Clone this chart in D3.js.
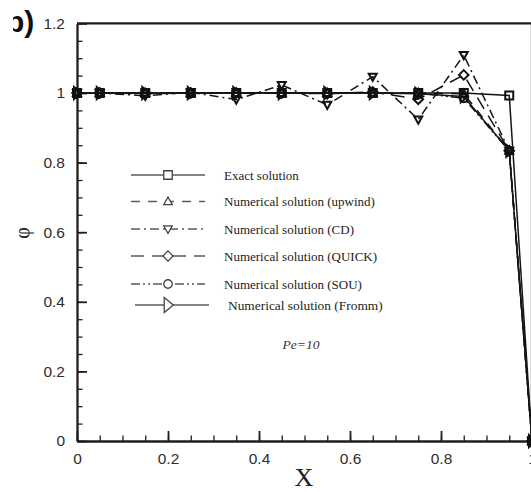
<!DOCTYPE html>
<html>
<head>
<meta charset="utf-8">
<script src="https://cdn.jsdelivr.net/npm/d3@7/dist/d3.min.js"></script>
<style>
  html, body { margin: 0; padding: 0; background: #fff; }
  svg { display: block; }
</style>
</head>
<body>
<div id="chart"></div>
<script>
// Grid nodes along X (cell centres plus the two boundaries)
const xNodes = [0, 0.05, 0.15, 0.25, 0.35, 0.45, 0.55, 0.65, 0.75, 0.85, 0.95, 1.0];

// phi at each node for every scheme
const exactPhi  = [1, 1, 1,     1,     1,     1,     1,     1,     1,     1,     0.993, 0];
const upwindPhi = [1, 1, 1,     1,     1,     1,     1,     1,     1,     0.998, 0.834, 0];
const cdPhi     = [1, 1, 0.992, 1.002, 0.981, 1.023, 0.966, 1.047, 0.924, 1.109, 0.834, 0];
const quickPhi  = [1, 1, 0.998, 1,     1,     1,     0.998, 1.003, 0.982, 1.052, 0.834, 0];
const souPhi    = [1, 1, 1,     1,     1,     1,     1,     1,     1,     0.985, 0.834, 0];
const frommPhi  = [1, 1, 1,     1,     1,     1,     1,     1,     0.998, 0.990, 0.834, 0];

const seriesNames = [
  "Exact solution",
  "Numerical solution (upwind)",
  "Numerical solution (CD)",
  "Numerical solution (QUICK)",
  "Numerical solution (SOU)",
  "Numerical solution (Fromm)"
];

const xTickLabels = ["0", "0.2", "0.4", "0.6", "0.8", "1"];
const yTickLabels = ["0", "0.2", "0.4", "0.6", "0.8", "1", "1.2"];

const W = 531, H = 492;
const svg = d3.select("#chart").append("svg")
  .attr("width", W).attr("height", H)
  .attr("viewBox", `0 0 ${W} ${H}`);

const x = d3.scaleLinear().domain([0, 1]).range([77, 532]);
const y = d3.scaleLinear().domain([0, 1.2]).range([441, 23.4]);

const axisColor = "#1e1e1e";
const sans = "'Liberation Sans', Arial, Helvetica, sans-serif";
const serif = "'Liberation Serif', 'Times New Roman', Times, serif";

// ---- Axes -------------------------------------------------------------
const xMinor = d3.range(0, 21).map(i => i * 0.05);
const yMinor = d3.range(0, 25).map(i => i * 0.05);
const xMajor = xTickLabels.map(Number);
const yMajor = yTickLabels.map(Number);

// minor ticks (inward, no labels)
svg.append("g").attr("transform", `translate(0,${y(0)})`)
  .call(d3.axisBottom(x).tickValues(xMinor).tickSize(-5.5).tickSizeOuter(0).tickFormat(""))
  .call(g => g.select(".domain").remove())
  .call(g => g.selectAll("line").attr("stroke", axisColor).attr("stroke-width", 1.3));
svg.append("g").attr("transform", `translate(${x(0)},0)`)
  .call(d3.axisLeft(y).tickValues(yMinor).tickSize(-5.5).tickSizeOuter(0).tickFormat(""))
  .call(g => g.select(".domain").remove())
  .call(g => g.selectAll("line").attr("stroke", axisColor).attr("stroke-width", 1.3));

// major ticks with labels
const xAxis = svg.append("g").attr("transform", `translate(0,${y(0)})`)
  .call(d3.axisBottom(x).tickValues(xMajor).tickSize(-10).tickSizeOuter(0).tickPadding(12)
    .tickFormat((d, i) => xTickLabels[i]));
const yAxis = svg.append("g").attr("transform", `translate(${x(0)},0)`)
  .call(d3.axisLeft(y).tickValues(yMajor).tickSize(-10).tickSizeOuter(0).tickPadding(12)
    .tickFormat((d, i) => yTickLabels[i]));
[xAxis, yAxis].forEach(g => {
  g.select(".domain").attr("stroke", axisColor).attr("stroke-width", 2.3);
  g.selectAll("line").attr("stroke", axisColor).attr("stroke-width", 1.8);
  g.selectAll("text").attr("fill", "#2e2e2e").style("font-family", sans).style("font-size", "15.5px");
});

// top and right frame edges
svg.append("line")
  .attr("x1", x(0)).attr("x2", x(1)).attr("y1", y(1.2)).attr("y2", y(1.2))
  .attr("stroke", axisColor).attr("stroke-width", 2.3);
svg.append("line")
  .attr("x1", x(1)).attr("x2", x(1)).attr("y1", y(1.2)).attr("y2", y(0))
  .attr("stroke", axisColor).attr("stroke-width", 2.3);

// ---- Marker shapes ----------------------------------------------------
function markerPath(kind, s) {
  // s = nominal marker width in px
  const h = s / 2;
  switch (kind) {
    case "square": return `M${-h},${-h}H${h}V${h}H${-h}Z`;
    case "up": return `M0,${-h * 1.05}L${h},${h * 0.75}L${-h},${h * 0.75}Z`;
    case "down": return `M0,${h * 1.05}L${h},${-h * 0.75}L${-h},${-h * 0.75}Z`;
    case "diamond": return `M0,${-h * 1.2}L${h * 1.2},0L0,${h * 1.2}L${-h * 1.2},0Z`;
    case "circle": return d3.arc()({ innerRadius: 0, outerRadius: h, startAngle: 0, endAngle: 2 * Math.PI });
    case "right": return `M${-h * 0.75},${-h * 1.5}L${h * 1.05},0L${-h * 0.75},${h * 1.5}Z`;
  }
}

const series = [
  { values: exactPhi,  dash: null,          marker: "square"  },
  { values: upwindPhi, dash: "9,8",         marker: "up"      },
  { values: cdPhi,     dash: "9,4,2,4",     marker: "down"    },
  { values: quickPhi,  dash: "13,8",        marker: "diamond" },
  { values: souPhi,    dash: "9,3,2,3,2,3", marker: "circle"  },
  { values: frommPhi,  dash: null,          marker: "right"   }
];

// ---- Curves -----------------------------------------------------------
const line = d3.line().x((d, i) => x(xNodes[i])).y(d => y(d));
const plot = svg.append("g");

plot.selectAll("path.curve").data(series).join("path")
  .attr("class", "curve")
  .attr("d", d => line(d.values))
  .attr("fill", "none")
  .attr("stroke", "#151515")
  .attr("stroke-width", 1.5)
  .attr("stroke-dasharray", d => d.dash);

series.forEach(s => {
  plot.append("g").selectAll("path").data(s.values).join("path")
    .attr("transform", (d, i) => `translate(${x(xNodes[i])},${y(d)})`)
    .attr("d", markerPath(s.marker, 8))
    .attr("fill", "none")
    .attr("stroke", "#111")
    .attr("stroke-width", 2);
});

// ---- Legend -----------------------------------------------------------
const legendRowY = [175, 201.5, 229, 256, 284, 305];
const legend = svg.append("g");
series.forEach((s, i) => {
  const isLast = i === series.length - 1;
  const x1 = isLast ? 135 : 131, x2 = isLast ? 209 : 205, cx = 168;
  const row = legend.append("g").attr("transform", `translate(0,${legendRowY[i]})`);
  row.append("line")
    .attr("x1", x1).attr("x2", x2).attr("y1", 0).attr("y2", 0)
    .attr("stroke", "#5a5a5a").attr("stroke-width", 1.5)
    .attr("stroke-dasharray", s.dash);
  row.append("path")
    .attr("transform", `translate(${cx},0)`)
    .attr("d", markerPath(s.marker, isLast ? 10 : 8.5))
    .attr("fill", "#fff").attr("stroke", "#444").attr("stroke-width", 1.3);
  row.append("text")
    .attr("x", isLast ? 228 : 224).attr("y", 0).attr("dy", "0.35em")
    .style("font-family", serif).style("font-size", isLast ? "13.4px" : "13px")
    .attr("fill", "#222")
    .text(seriesNames[i]);
});

svg.append("text")
  .attr("x", 301).attr("y", 349)
  .attr("text-anchor", "middle")
  .style("font-family", serif).style("font-size", "13.5px").style("font-style", "italic")
  .attr("fill", "#333")
  .text("Pe=10");

// ---- Axis titles ------------------------------------------------------
svg.append("text")
  .attr("x", 304).attr("y", 486)
  .attr("text-anchor", "middle")
  .style("font-family", serif).style("font-size", "26px")
  .attr("fill", "#222")
  .text("X");

svg.append("text")
  .attr("transform", `translate(29,233) rotate(-90)`)
  .attr("text-anchor", "middle")
  .style("font-family", serif).style("font-size", "20px")
  .attr("fill", "#222")
  .text("φ");

// ---- Panel tag (partly cut by the left margin) -------------------------
svg.append("clipPath").attr("id", "tagClip")
  .append("rect").attr("x", 13).attr("y", 0).attr("width", 40).attr("height", 50);
svg.append("text")
  .attr("clip-path", "url(#tagClip)")
  .attr("x", 6).attr("y", 32)
  .style("font-family", sans).style("font-size", "30px").style("font-weight", "bold")
  .attr("fill", "#111")
  .text("b)");
</script>
</body>
</html>
